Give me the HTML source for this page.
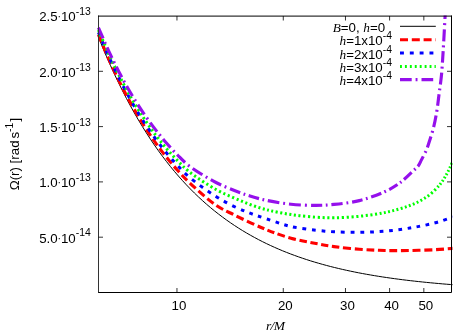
<!DOCTYPE html>
<html><head><meta charset="utf-8"><title>Omega(r)</title>
<style>html,body{margin:0;padding:0;background:#fff}svg{display:block;will-change:transform}</style></head>
<body>
<svg width="474" height="332" viewBox="0 0 474 332">
<rect width="474" height="332" fill="#fff"/>
<defs><clipPath id="c"><rect x="97.00" y="15.50" width="355.50" height="277.50"/></clipPath></defs>
<g clip-path="url(#c)" fill="none">
<path d="M98.40 37.00 L102.40 46.81 L106.40 56.25 L110.40 65.33 L114.40 74.06 L118.40 82.47 L122.40 90.55 L126.40 98.33 L130.40 105.80 L134.40 112.99 L138.40 119.91 L142.40 126.56 L146.40 132.96 L150.40 139.11 L154.40 145.02 L158.40 150.71 L162.40 156.18 L166.40 161.44 L170.40 166.49 L174.40 171.36 L178.40 176.03 L182.40 180.53 L186.40 184.85 L190.40 189.01 L194.40 193.01 L198.40 196.85 L202.40 200.54 L206.40 204.10 L210.40 207.51 L214.40 210.80 L218.40 213.95 L222.40 216.99 L226.40 219.91 L230.40 222.71 L234.40 225.41 L238.40 228.01 L242.40 230.50 L246.40 232.90 L250.40 235.20 L254.40 237.42 L258.40 239.55 L262.40 241.60 L266.40 243.57 L270.40 245.46 L274.40 247.28 L278.40 249.03 L282.40 250.71 L286.40 252.33 L290.40 253.88 L294.40 255.37 L298.40 256.81 L302.40 258.19 L306.40 259.52 L310.40 260.80 L314.40 262.02 L318.40 263.20 L322.40 264.33 L326.40 265.42 L330.40 266.47 L334.40 267.48 L338.40 268.45 L342.40 269.38 L346.40 270.27 L350.40 271.13 L354.40 271.96 L358.40 272.75 L362.40 273.52 L366.40 274.25 L370.40 274.95 L374.40 275.63 L378.40 276.29 L382.40 276.91 L386.40 277.51 L390.40 278.09 L394.40 278.65 L398.40 279.18 L402.40 279.70 L406.40 280.19 L410.40 280.67 L414.40 281.12 L418.40 281.56 L422.40 281.98 L426.40 282.39 L430.40 282.78 L434.40 283.15 L438.40 283.51 L442.40 283.86 L446.40 284.19 L450.40 284.51 L454.40 284.82" stroke="#000" stroke-width="1"/>
<path d="M98.40 34.66 C102.17 43.50 105.84 52.62 109.70 61.17 C113.38 69.34 117.14 77.25 121.00 84.89 C124.69 92.19 128.45 99.26 132.30 106.07 C135.99 112.60 139.75 118.91 143.60 124.98 C147.29 130.81 151.06 136.43 154.90 141.84 C158.60 147.04 162.36 152.05 166.20 156.85 C169.90 161.49 173.67 165.94 177.50 170.21 C181.21 174.33 184.08 177.59 188.80 182.06 C195.78 188.65 207.61 199.48 216.00 205.20 C222.30 209.49 226.90 211.30 233.75 214.70 C242.85 219.22 255.84 225.41 266.00 229.50 C274.77 233.03 282.59 235.86 291.00 238.20 C299.26 240.50 308.34 242.03 316.00 243.50 C322.48 244.74 327.47 245.70 334.00 246.60 C341.70 247.66 350.86 248.55 359.30 249.20 C367.73 249.85 376.16 250.28 384.60 250.50 C393.03 250.72 401.46 250.63 409.90 250.50 C418.36 250.37 427.60 250.10 435.30 249.70 C441.74 249.36 447.10 248.83 453.00 248.40" stroke="#ff0000" stroke-width="3.10" stroke-dasharray="8.02 3.81 8.02 3.81 8.02 3.81 8.02 3.81 8.02 3.81 8.02 3.81 8.02 3.81 8.02 3.81 7.85 3.73 7.85 3.73 7.85 3.73 7.85 3.73 7.85 3.73 7.85 3.73 7.85 3.73 7.85 3.73 7.85 3.73 7.76 3.68 7.76 3.68 7.76 3.68 7.79 3.70 7.79 3.70 7.31 3.47 7.31 3.47 7.79 3.70 7.79 3.70 7.42 3.52 7.42 3.52 7.55 3.59 7.55 3.59 8.00 3.80 8.00 3.80 7.73 3.67 7.73 3.67 7.87 3.74 7.87 3.74 7.96 3.78 7.96 3.78 8.00 3.80 8.00 3.80 8.00 3.80"/>
<path d="M98.40 32.33 C102.17 41.08 105.84 50.12 109.70 58.59 C113.38 66.66 117.14 74.48 121.00 82.02 C124.68 89.22 128.45 96.19 132.30 102.89 C135.99 109.31 139.75 115.50 143.60 121.46 C147.29 127.17 151.06 132.66 154.90 137.94 C158.59 143.01 162.36 147.87 166.20 152.53 C169.90 157.02 173.67 161.32 177.50 165.42 C181.20 169.38 184.02 172.66 188.80 176.75 C195.73 182.68 207.75 191.26 216.00 196.50 C222.41 200.57 227.89 203.45 233.75 206.30 C239.22 208.96 244.48 211.09 250.00 213.20 C255.56 215.33 260.83 216.98 267.00 219.00 C274.30 221.38 282.84 224.63 291.00 226.50 C299.18 228.37 308.34 229.29 316.00 230.20 C322.48 230.97 327.48 231.45 334.00 231.80 C341.71 232.22 350.87 232.40 359.30 232.30 C367.73 232.20 376.18 231.91 384.60 231.20 C393.05 230.48 401.48 229.39 409.90 228.00 C418.39 226.60 427.65 224.83 435.30 222.80 C441.79 221.08 447.10 218.93 453.00 217.00" stroke="#0000ff" stroke-width="3.00" stroke-dasharray="3.91 5.94 3.91 5.94 3.91 5.94 3.91 5.94 3.91 5.94 3.91 5.94 3.91 5.94 3.91 5.94 3.91 5.94 3.91 5.94 3.90 5.93 3.90 5.93 3.83 5.82 3.83 5.82 3.83 5.82 3.83 5.82 3.83 5.82 3.83 5.82 3.83 5.82 3.83 5.82 3.76 5.72 3.76 5.72 3.80 5.79 3.80 5.79 3.60 5.47 3.60 5.47 3.72 5.66 3.72 5.66 3.56 5.41 3.56 5.41 3.79 5.76 3.79 5.76 3.86 5.87 3.86 5.87 3.85 5.86 3.85 5.86 3.87 5.89 3.87 5.89 3.78 5.74 3.78 5.74 3.71 5.65 3.71 5.65 3.58 5.44 3.58 5.44 3.66 5.56 3.66 5.56 3.90 5.93 3.90 5.93 3.90 5.93"/>
<path d="M98.40 29.99 C102.17 38.66 105.84 47.62 109.70 56.00 C113.38 63.98 117.14 71.71 121.00 79.15 C124.68 86.25 128.44 93.12 132.30 99.71 C135.99 106.02 139.75 112.10 143.60 117.94 C147.29 123.52 151.05 128.90 154.90 134.03 C158.59 138.97 162.36 143.70 166.20 148.21 C169.90 152.55 173.66 156.69 177.50 160.63 C181.20 164.42 184.01 167.61 188.80 171.45 C195.72 176.99 207.74 184.86 216.00 189.50 C222.40 193.09 227.93 195.24 233.75 197.80 C239.26 200.22 244.56 202.52 250.00 204.50 C255.31 206.44 260.03 208.06 266.00 209.60 C273.36 211.50 282.64 213.33 291.00 214.60 C299.30 215.86 308.34 216.67 316.00 217.20 C322.48 217.64 327.49 217.88 334.00 217.80 C341.72 217.70 350.89 217.16 359.30 216.30 C367.75 215.43 376.22 214.38 384.60 212.60 C393.09 210.80 402.35 208.50 409.90 205.50 C416.50 202.88 422.51 199.95 427.70 196.20 C432.55 192.70 436.84 188.29 440.30 184.00 C443.44 180.12 445.72 175.83 447.90 171.80 C449.90 168.10 451.30 164.47 453.00 160.80" stroke="#00ff00" stroke-width="3.00" stroke-dasharray="2.19 2.72 2.19 2.72 2.19 2.72 2.19 2.72 2.19 2.72 2.19 2.72 2.19 2.72 2.19 2.72 2.19 2.72 2.19 2.72 2.19 2.72 2.19 2.72 2.19 2.72 2.19 2.72 2.19 2.72 2.19 2.72 2.19 2.72 2.19 2.72 2.19 2.72 2.19 2.72 2.19 2.72 2.19 2.72 2.17 2.69 2.17 2.69 2.17 2.69 2.17 2.69 2.17 2.69 2.17 2.69 2.17 2.69 2.17 2.69 2.17 2.69 2.17 2.69 2.17 2.69 2.17 2.69 2.17 2.69 2.17 2.69 2.17 2.69 2.17 2.69 2.17 2.69 2.17 2.69 2.17 2.69 2.17 2.69 2.17 2.69 2.17 2.69 2.17 2.69 2.17 2.69 2.09 2.59 2.09 2.59 2.09 2.59 2.09 2.59 2.09 2.59 2.09 2.59 1.95 2.42 1.95 2.42 1.95 2.42 2.06 2.55 2.06 2.55 2.06 2.55 2.06 2.55 2.06 2.55 2.06 2.55 2.18 2.71 2.18 2.71 2.18 2.71 2.18 2.71 2.18 2.71 2.18 2.71 2.15 2.66 2.15 2.66 2.15 2.66 2.15 2.66 2.15 2.66 2.15 2.66 2.09 2.60 2.09 2.60 2.09 2.60 2.09 2.60 1.92 2.38 1.92 2.38 1.92 2.38 1.92 2.38 1.92 2.39 1.92 2.39 1.92 2.39 1.92 2.39 1.88 2.34 1.88 2.34 1.88 2.34 1.88 2.34 1.98 2.46 1.98 2.46 1.98 2.46 1.69 2.10 1.69 2.10 1.69 2.10 1.69 2.10 1.69 2.10 1.69 2.10 1.69 2.10 2.20 2.73 2.20 2.73"/>
<path d="M98.40 27.57 C102.17 36.11 105.83 44.96 109.70 53.19 C113.38 61.01 117.14 68.56 121.00 75.82 C124.68 82.72 128.44 89.36 132.30 95.75 C135.98 101.84 139.75 107.69 143.60 113.32 C147.29 118.73 151.06 123.92 154.90 128.91 C158.60 133.72 162.36 138.34 166.20 142.76 C169.90 147.03 173.66 151.13 177.50 155.01 C181.20 158.75 183.99 161.95 188.80 165.64 C195.71 170.95 207.76 178.17 216.00 182.50 C222.41 185.87 227.92 187.95 233.75 190.25 C239.25 192.42 244.57 194.31 250.00 196.00 C255.32 197.65 260.04 199.04 266.00 200.30 C273.37 201.86 282.64 203.35 291.00 204.20 C299.31 205.05 308.35 205.43 316.00 205.40 C322.49 205.38 327.51 205.07 334.00 204.40 C341.73 203.61 350.96 202.66 359.30 200.60 C367.83 198.49 377.37 195.13 384.60 191.80 C390.46 189.10 395.12 186.32 399.80 182.90 C404.41 179.54 409.09 174.73 412.50 171.50 C414.91 169.22 416.99 167.57 418.50 165.50 C419.78 163.75 420.23 162.18 421.30 160.10 C422.75 157.26 425.12 153.00 426.40 150.00 C427.38 147.70 427.75 146.35 428.60 143.75 C429.99 139.51 432.30 132.56 433.70 126.90 C435.09 121.31 436.09 115.59 437.00 110.00 C437.88 104.54 438.39 99.22 439.10 93.75 C439.82 88.18 440.72 82.53 441.30 76.90 C441.88 71.28 442.20 65.87 442.60 60.00 C443.04 53.62 443.40 46.97 443.80 40.00 C444.24 32.36 444.76 21.86 445.10 16.00 C445.30 12.62 445.43 10.67 445.60 8.00" stroke="#9510ec" stroke-width="3.15" stroke-dasharray="11.74 3.91 1.91 4.01 11.62 3.87 1.89 3.97 11.88 3.96 1.93 4.06 11.88 3.96 1.93 4.06 11.88 3.96 1.93 4.06 11.33 3.78 1.84 3.87 11.46 3.82 1.86 3.92 11.46 3.82 1.86 3.92 11.46 3.82 1.86 3.92 11.65 3.88 1.89 3.98 10.81 3.60 1.75 3.69 10.84 3.61 1.76 3.71 11.58 3.86 1.88 3.96 11.98 3.99 1.95 4.10 11.23 3.74 1.82 3.84 11.29 3.76 1.83 3.86 10.74 3.58 1.74 3.67 10.59 3.53 1.72 3.62 9.79 3.26 1.59 3.35 10.33 3.44 1.68 3.53 11.60 3.87 1.88 3.97 11.60 3.87 1.88 3.97 11.77 3.92 1.91 4.02 11.76 3.92 1.91 4.02 11.97 3.99 1.94 4.09 11.57 3.86 1.88 3.96 12.05 4.02 1.96 4.12 11.70 3.90 1.90 4.00 11.70 3.90 1.90 4.00"/>
</g>
<path d="M451.50 15.60 V292.50 H98.00" fill="none" stroke="#000" stroke-width="1"/>
<path d="M98.50 292.50 V15.60" fill="none" stroke="#333" stroke-width="1"/>
<path d="M98.00 16.10 H452.00" fill="none" stroke="#000" stroke-width="1"/>
<path d="M176.96 292.50 v-4.50 M176.96 16.00 v4.50 M283.28 292.50 v-4.50 M283.28 16.00 v4.50 M345.48 292.50 v-4.50 M345.48 16.00 v4.50 M389.60 292.50 v-4.50 M389.60 16.00 v4.50 M423.83 292.50 v-4.50 M423.83 16.00 v4.50 M98.50 237.20 h4.50 M451.50 237.20 h-4.50 M98.50 181.90 h4.50 M451.50 181.90 h-4.50 M98.50 126.60 h4.50 M451.50 126.60 h-4.50 M98.50 71.30 h4.50 M451.50 71.30 h-4.50" stroke="#000" stroke-width="0.8" fill="none"/>
<g font-family="'Liberation Sans', sans-serif" font-size="13.30" fill="#000">
<text x="178.96" y="310.3" text-anchor="middle">10</text>
<text x="285.28" y="310.3" text-anchor="middle">20</text>
<text x="347.48" y="310.3" text-anchor="middle">30</text>
<text x="391.60" y="310.3" text-anchor="middle">40</text>
<text x="425.83" y="310.3" text-anchor="middle">50</text>
<text x="39.2" y="21.40">2.5<tspan dx="-0.3" font-size="10.64" dy="-1">·</tspan><tspan dy="1">10</tspan><tspan font-size="10.40" dy="-6.2">-13</tspan></text>
<text x="39.2" y="76.70">2.0<tspan dx="-0.3" font-size="10.64" dy="-1">·</tspan><tspan dy="1">10</tspan><tspan font-size="10.40" dy="-6.2">-13</tspan></text>
<text x="39.2" y="132.00">1.5<tspan dx="-0.3" font-size="10.64" dy="-1">·</tspan><tspan dy="1">10</tspan><tspan font-size="10.40" dy="-6.2">-13</tspan></text>
<text x="39.2" y="187.30">1.0<tspan dx="-0.3" font-size="10.64" dy="-1">·</tspan><tspan dy="1">10</tspan><tspan font-size="10.40" dy="-6.2">-13</tspan></text>
<text x="39.2" y="242.60">5.0<tspan dx="-0.3" font-size="10.64" dy="-1">·</tspan><tspan dy="1">10</tspan><tspan font-size="10.40" dy="-6.2">-14</tspan></text>
<text transform="translate(19,190.3) rotate(-90)">Ω(r) [rad<tspan dx="-1.8"> s</tspan><tspan font-size="10.40" dy="-6.3">-1</tspan><tspan dy="6.3" dx="1.1">]</tspan></text>
<text x="265.9" y="330.4" font-size="13.5" letter-spacing="-0.55" font-family="'Liberation Serif', serif" font-style="italic">r/M</text>
<text x="385.2" y="31.60" text-anchor="end"><tspan font-family="'Liberation Serif', serif" font-style="italic">B</tspan>=0, <tspan font-family="'Liberation Serif', serif" font-style="italic">h</tspan>=0</text>
<text x="392.0" y="45.10" text-anchor="end"><tspan font-family="'Liberation Serif', serif" font-style="italic">h</tspan>=1x10<tspan font-size="10.40" dy="-6.0" dx="0">-4</tspan></text>
<text x="392.0" y="58.50" text-anchor="end"><tspan font-family="'Liberation Serif', serif" font-style="italic">h</tspan>=2x10<tspan font-size="10.40" dy="-6.0" dx="0">-4</tspan></text>
<text x="392.0" y="72.00" text-anchor="end"><tspan font-family="'Liberation Serif', serif" font-style="italic">h</tspan>=3x10<tspan font-size="10.40" dy="-6.0" dx="0">-4</tspan></text>
<text x="392.0" y="85.40" text-anchor="end"><tspan font-family="'Liberation Serif', serif" font-style="italic">h</tspan>=4x10<tspan font-size="10.40" dy="-6.0" dx="0">-4</tspan></text>
</g>
<g fill="none">
<path d="M400.00 26.30 H435.80" stroke="#000" stroke-width="1"/>
<path d="M400.00 39.70 H435.80" stroke="#ff0000" stroke-width="3.10" stroke-dasharray="8 3.8"/>
<path d="M400.00 53.00 H435.80" stroke="#0000ff" stroke-width="3.00" stroke-dasharray="3.9 5.93"/>
<path d="M400.00 66.50 H435.80" stroke="#00ff00" stroke-width="3.00" stroke-dasharray="1.9 3.03"/>
<path d="M400.00 79.60 H435.80" stroke="#9510ec" stroke-width="3.15" stroke-dasharray="11.7 3.9 1.9 4"/>
</g>
</svg>
</body></html>
